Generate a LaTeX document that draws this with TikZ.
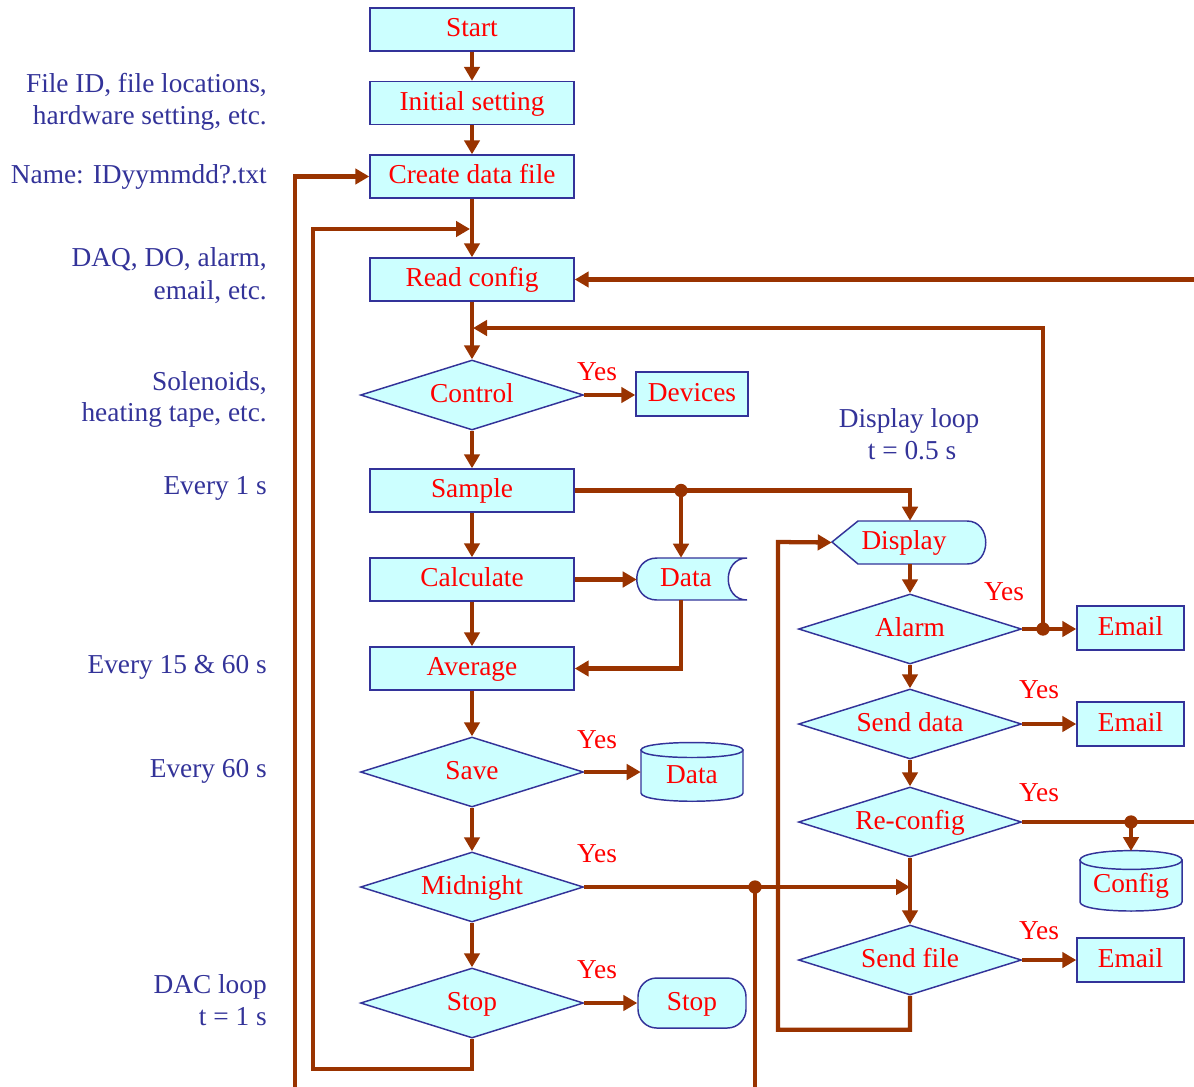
\documentclass[tikz,border=0pt]{standalone}
\usepackage{fontspec}
\setmainfont{Liberation Serif}
\usetikzlibrary{shapes.geometric,arrows.meta}
\definecolor{fillc}{HTML}{CCFFFF}
\definecolor{bdr}{HTML}{333399}
\definecolor{brn}{HTML}{993300}
\definecolor{lblc}{HTML}{333399}
\newcommand{\fs}{\fontsize{20.5}{24}\selectfont}
\tikzset{
  txt/.style={font=\fs, text height=1.1em, text depth=0pt, inner sep=0pt},
  box/.style={txt, draw=bdr, fill=fillc, line width=1.1pt, minimum width=153pt, minimum height=32.25pt, text=red},
  ebox/.style={box, minimum width=80.25pt, minimum height=33pt},
  dia/.style={txt, diamond, draw=bdr, fill=fillc, line width=1.1pt, minimum width=167.25pt, minimum height=52.5pt, aspect=3.19, text=red},
  term/.style={box, rounded corners=14pt, minimum width=81pt, minimum height=37.5pt},
  ghost/.style={txt, text=red},
  shapeline/.style={draw=bdr, fill=fillc, line width=1.1pt},
  lbl/.style={txt, text=lblc, anchor=east},
  lblc/.style={txt, text=lblc},
  yes/.style={txt, text=red},
  wire/.style={draw=brn, line width=3.2pt},
  conn/.style={wire, -{Triangle[length=10.5pt,width=11.5pt]}},
  jdot/.style={fill=brn}
}
\begin{document}
\begin{tikzpicture}[x=0.75pt,y=-0.75pt]
\useasboundingbox (0,0) rectangle (1194,1086);
\clip (0,0) rectangle (1194,1086);
\fill[white] (0,0) rectangle (1194,1086);

% ---- custom outlines ----
% stored data
\path[shapeline] (657,558) -- (747,558) .. controls (722,558) and (722,600) .. (747,600) -- (657,600) .. controls (630,600) and (630,558) .. (657,558) -- cycle;
% display
\path[shapeline] (832,542) -- (858,521) -- (967,521) .. controls (992,521) and (992,564) .. (967,564) -- (858,564) -- cycle;
% cylinder data
\path[shapeline] (641,750) -- (641,793) .. controls (641,804) and (743,804) .. (743,793) -- (743,750) -- cycle;
\path[shapeline] (641,750) .. controls (641,740) and (743,740) .. (743,750) .. controls (743,760) and (641,760) .. (641,750) -- cycle;
% cylinder config
\path[shapeline] (1080,860) -- (1080,902) .. controls (1080,914) and (1182,914) .. (1182,902) -- (1182,860) -- cycle;
\path[shapeline] (1080,860) .. controls (1080,847.5) and (1182,847.5) .. (1182,860) .. controls (1182,872.5) and (1080,872.5) .. (1080,860) -- cycle;

% ---- nodes ----
\node[box] (start) at (472,29.5) {Start};
\node[box] (init) at (472,103) {Initial setting};
\node[box] (create) at (472,176.5) {Create data file};
\node[box] (read) at (472,279.5) {Read config};
\node[dia] (control) at (472,395) {Control};
\node[ebox, minimum width=84pt] (devices) at (692,394) {Devices};
\node[box] (sample) at (472,490.5) {Sample};
\node[box] (calc) at (472,579.5) {Calculate};
\node[ghost, minimum width=73.5pt, minimum height=31.5pt] (data1) at (686,579) {Data};
\node[box] (avg) at (472,668.5) {Average};
\node[dia] (save) at (472,772) {Save};
\node[ghost, minimum width=76.5pt, minimum height=45pt] (data2) at (692,776) {Data};
\node[dia] (midnight) at (472,887) {Midnight};
\node[dia] (stopd) at (472,1003) {Stop};
\node[term] (stopt) at (692,1003) {Stop};
\node[ghost, minimum width=117pt, minimum height=32.25pt] (display) at (910,542.5) {\hspace*{-9pt}Display};
\node[dia] (alarm) at (910,629) {Alarm};
\node[ebox] (email1) at (1130.5,628) {Email};
\node[dia] (senddata) at (910,724) {Send data};
\node[ebox] (email2) at (1130.5,724) {Email};
\node[dia] (reconfig) at (910,822) {Re-config};
\node[ghost, minimum width=76.5pt, minimum height=45pt] (config) at (1131,885) {Config};
\node[dia] (sendfile) at (910,960) {Send file};
\node[ebox] (email3) at (1130.5,960) {Email};

% ---- labels ----
\node[lbl] (l1) at (267,85) {File ID, file locations,};
\node[lbl] (l2) at (267,117) {hardware setting, etc.};
\node[lbl] (l3) at (267,176) {Name: IDyymmdd?.txt};
\node[lbl] (l4) at (267,259) {DAQ, DO, alarm,};
\node[lbl] (l5) at (267,292) {email, etc.};
\node[lbl] (l6) at (267,383) {Solenoids,};
\node[lbl] (l7) at (267,414) {heating tape, etc.};
\node[lbl] (l8) at (267,487) {Every 1 s};
\node[lbl] (l9) at (267,666) {Every 15 \& 60 s};
\node[lbl] (l10) at (267,770) {Every 60 s};
\node[lbl] (l11) at (267,986) {DAC loop};
\node[lbl] (l12) at (267,1018) {t = 1 s};
\node[lblc] (dl1) at (909,420) {Display loop};
\node[lblc] (dl2) at (912,452) {t = 0.5 s};

\node[yes] (y1) at (597,373) {Yes};
\node[yes] (y2) at (597,741) {Yes};
\node[yes] (y3) at (597,855) {Yes};
\node[yes] (y4) at (597,971) {Yes};
\node[yes] (y5) at (1004,593) {Yes};
\node[yes] (y6) at (1039,691) {Yes};
\node[yes] (y7) at (1039,794) {Yes};
\node[yes] (y8) at (1039,932) {Yes};

% ---- junction coordinates ----
\coordinate (j1) at (681,490.5);
\coordinate (j2) at (755,887);
\coordinate (j3) at (470,229);
\coordinate (j4) at (473,328);
\coordinate (j5) at (1043,629);
\coordinate (j6) at (1131,822);

% ---- connectors ----
\draw[conn] (start) -- (init);
\draw[conn] (init) -- (create);
\draw[conn] (create) -- (read);
\draw[conn] (read) -- (control);
\draw[conn] (control) -- (sample);
\draw[conn] (control.east) -- (control.east -| devices.west);
\draw[conn] (sample) -- (calc);
\draw[conn] (calc) -- (avg);
\draw[conn] (avg) -- (save);
\draw[conn] (save) -- (midnight);
\draw[conn] (midnight) -- (stopd);
\draw[conn] (stopd.east) -- (stopd.east -| stopt.west);
\draw[conn] (save.east) -- (save.east -| data2.west);
\draw[conn] (calc.east) -- (calc.east -| data1.west);
\draw[conn] (sample.east) -| (display.north);
\draw[conn] (j1) -- (j1 |- data1.north);
\draw[conn] (j1 |- data1.south) |- (avg.east);
\draw[conn] (midnight.east) -- (midnight.east -| sendfile.north);
\draw[conn] (j2) -- (755,1100) -- (295,1100) |- (create.west);
\draw[conn] (stopd.south) -- ++(0,30) -| (313,229) -- (j3);
\draw[conn] (j5) |- (j4);
\draw[conn] (reconfig.east) -- (1200,822) |- (read.east);
\draw[conn] (j6) -- (1131,851);
\draw[conn] (display) -- (alarm);
\draw[conn] (alarm) -- (senddata);
\draw[conn] (senddata) -- (reconfig);
\draw[conn] (reconfig) -- (sendfile);
\draw[conn] (alarm.east) -- (alarm.east -| email1.west);
\draw[conn] (senddata.east) -- (senddata.east -| email2.west);
\draw[conn] (sendfile.east) -- (sendfile.east -| email3.west);
\draw[conn] (sendfile.south) -- ++(0,34) -| (778,542) -- (display.west);

\fill[jdot] (j1) circle (5pt);
\fill[jdot] (j2) circle (5pt);
\fill[jdot] (j5) circle (5pt);
\fill[jdot] (j6) circle (5pt);
\end{tikzpicture}
\end{document}
